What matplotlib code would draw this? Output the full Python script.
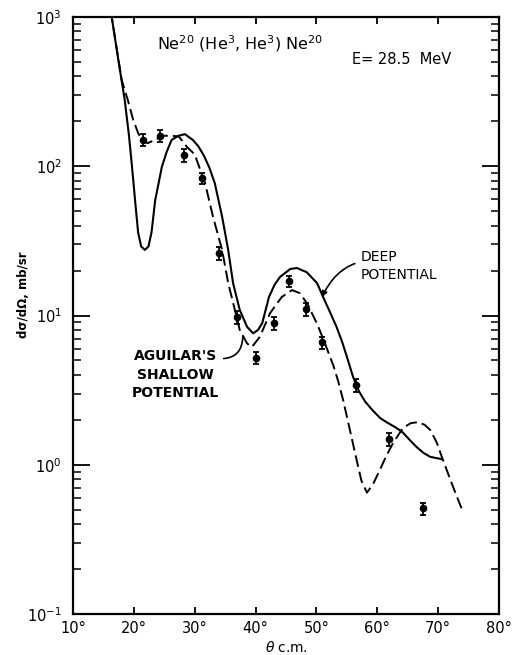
import matplotlib
matplotlib.use("Agg")
import matplotlib.pyplot as plt
from matplotlib.ticker import LogLocator, FixedLocator, FuncFormatter, NullFormatter

# ---- data ----
theta_exp = [21.5, 24.3, 28.3, 31.2, 34.0, 36.9, 40.0, 43.0, 45.5, 48.3, 50.9, 56.5, 61.9, 67.5]
sigma_exp = [150, 160, 119, 83, 26.2, 9.8, 5.2, 8.9, 17.0, 11.1, 6.6, 3.4, 1.49, 0.51]
rel_err = [0.09, 0.09, 0.10, 0.09, 0.10, 0.10, 0.09, 0.10, 0.09, 0.10, 0.09, 0.10, 0.10, 0.09]

theta_deep = [16.2, 17.5, 18.5, 19.2, 19.7, 20.2, 20.7, 21.2, 21.8, 22.4, 22.9, 23.5, 24.6,
              25.4, 26.2, 27.3, 28.4, 29.7, 30.6, 31.5, 32.4, 33.3, 34.5, 35.5, 36.3, 37.4,
              38.6, 39.6, 40.4, 41.1, 42.2, 43.1, 44.0, 45.7, 46.8, 48.4, 50.1, 51.1, 52.2,
              53.3, 54.2, 55.0, 56.0, 57.0, 58.0, 59.3, 60.5, 61.6, 63.0, 64.1, 65.3, 66.5,
              67.6, 68.7, 70.6]
sigma_deep = [1100, 500, 278, 160, 99, 59, 36, 29, 27.5, 29, 36, 59, 99,
              125, 150, 160, 164, 150, 136, 118, 98, 77, 46, 27.5, 16.5, 10.9,
              8.4, 7.6, 8.0, 8.9, 13.3, 16.0, 18.1, 20.5, 20.8, 19.5, 16.5, 13.3, 10.6,
              8.4, 6.7, 5.3, 3.9, 3.1, 2.65, 2.3, 2.05, 1.92, 1.78, 1.66, 1.47, 1.31,
              1.2, 1.13, 1.09]

theta_shallow = [16.2, 18.0, 19.0, 19.9, 20.7, 21.5, 22.3, 23.5, 24.8, 26.3, 27.4, 28.7, 30.0,
                 31.7, 33.0, 34.5, 35.5, 36.6, 37.4, 38.6, 39.4, 40.7, 42.4, 44.3, 46.0,
                 47.3, 48.6, 50.1, 51.1, 52.0, 52.8, 53.6, 54.4, 55.5, 56.6, 57.4, 58.3,
                 59.3, 60.4, 61.5, 62.6, 64.2, 65.5, 66.7, 67.8, 68.7, 69.8, 70.6, 72.4, 74.1]
sigma_shallow = [1100, 378, 278, 204, 167, 146, 143, 150, 160, 160, 158, 135, 120,
                 77, 46, 27.5, 16.5, 10.9, 8.0, 6.5, 6.15, 7.2, 10.4, 13.3, 14.8,
                 14.1, 11.8, 8.8, 7.0, 5.6, 4.6, 3.6, 2.7, 1.71, 1.08, 0.78, 0.65,
                 0.74, 0.92, 1.15, 1.40, 1.76, 1.9, 1.93, 1.85, 1.71, 1.4, 1.13, 0.72, 0.48]

x_ticks = [10, 20, 30, 40, 50, 60, 70, 80]

title_text = "Ne$^{20}$ (He$^{3}$, He$^{3}$) Ne$^{20}$"
energy_text = "E= 28.5  MeV"
deep_label = "DEEP\nPOTENTIAL"
shallow_label = "AGUILAR'S\nSHALLOW\nPOTENTIAL"

# ---- figure ----
fig = plt.figure(figsize=(5.2, 6.55), dpi=100)
ax = fig.add_axes([73 / 520, 1 - 614 / 655, 426 / 520, 597 / 655])

ax.set_yscale("log")
ax.set_xlim(10, 80)
ax.set_ylim(0.1, 1000)

ax.plot(theta_deep, sigma_deep, color="black", lw=1.5, solid_joinstyle="round")
ax.plot(theta_shallow, sigma_shallow, color="black", lw=1.4, dashes=(6, 2.6))

lower = [s * e for s, e in zip(sigma_exp, rel_err)]
upper = [s * e for s, e in zip(sigma_exp, rel_err)]
ax.errorbar(theta_exp, sigma_exp, yerr=[lower, upper], fmt="o", color="black",
            ms=4.5, capsize=2.5, elinewidth=1.3, capthick=1.3, zorder=5)

# ticks
ax.xaxis.set_major_locator(FixedLocator(x_ticks))
ax.xaxis.set_major_formatter(FuncFormatter(lambda v, p: f"{v:.0f}\u00b0"))
ax.yaxis.set_major_locator(LogLocator(base=10, numticks=10))
ax.yaxis.set_minor_locator(LogLocator(base=10, subs=range(2, 10), numticks=20))
ax.yaxis.set_minor_formatter(NullFormatter())
ax.tick_params(axis="x", which="major", direction="in", length=5, width=1.3,
               top=True, labelsize=10.5, pad=5)
ax.tick_params(axis="y", which="major", direction="in", length=12, width=1.3,
               right=True, labelsize=10.5, pad=8)
ax.tick_params(axis="y", which="minor", direction="in", length=6, width=1.1, right=True)
for s in ax.spines.values():
    s.set_linewidth(1.6)

ax.set_xlabel("$\\theta$ c.m.", fontsize=10, labelpad=3)
ax.set_ylabel("d\u03c3/d\u03a9, mb/sr", fontsize=8.5, fontweight="bold")
ax.yaxis.set_label_coords(-43 / 426, 1 - (295 - 17) / 597)

ax.text(0.392, 0.956, title_text, transform=ax.transAxes, ha="center", va="center", fontsize=11.5)
ax.text(0.772, 0.928, energy_text, transform=ax.transAxes, ha="center", va="center", fontsize=10.5)

ax.annotate(deep_label, xy=(50.9, 13.3), xytext=(57.2, 21.5), ha="left", va="center",
            fontsize=10, linespacing=1.3,
            arrowprops=dict(arrowstyle="-|>", color="black", lw=1.2, shrinkA=2, shrinkB=0,
                            mutation_scale=8, connectionstyle="arc3,rad=0.45"))
ax.annotate(shallow_label, xy=(37.9, 7.2), xytext=(26.9, 4.0), ha="center", va="center",
            fontsize=10, fontweight="bold", linespacing=1.4,
            arrowprops=dict(arrowstyle="-", color="black", lw=1.2, shrinkA=1, shrinkB=0,
                            relpos=(1.0, 0.82), connectionstyle="arc3,rad=0.5"))

fig.savefig("out.png", dpi=100)
